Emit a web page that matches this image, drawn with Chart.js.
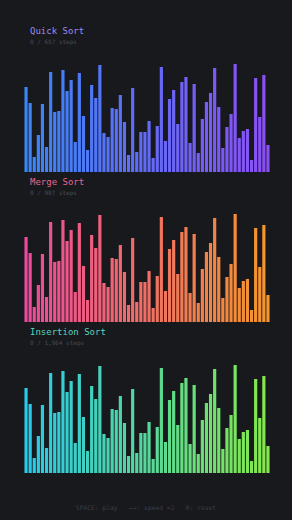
<!DOCTYPE html>
<html>
<head>
<meta charset="utf-8">
<script src="https://cdn.jsdelivr.net/npm/chart.js@4/dist/chart.umd.min.js"></script>
<style>
  html, body { margin: 0; padding: 0; }
  body {
    width: 292px; height: 520px; overflow: hidden; position: relative;
    background: #18191d;
    font-family: "DejaVu Sans Mono", "Liberation Mono", monospace;
  }
  .title { position: absolute; left: 30px; font-size: 9px; line-height: 10px; }
  .steps { position: absolute; left: 30px; font-size: 6px; line-height: 7px; color: #4b4c54; }
  .box { position: absolute; left: 24px; width: 246px; height: 110px; }
  .footer {
    position: absolute; left: 0; width: 292px; top: 504px; text-align: center;
    font-size: 6.3px; line-height: 8px; color: #3c3d45; white-space: pre;
  }
</style>
</head>
<body>
<div class="title" style="top:26px;color:#9a8cf0">Quick Sort</div>
<div class="steps" style="top:38px">0 / 657 steps</div>
<div class="box" style="top:62px"><canvas id="chart-quick"></canvas></div>

<div class="title" style="top:177px;color:#e8668f">Merge Sort</div>
<div class="steps" style="top:189px">0 / 997 steps</div>
<div class="box" style="top:212px"><canvas id="chart-merge"></canvas></div>

<div class="title" style="top:327px;color:#5cd4bf">Insertion Sort</div>
<div class="steps" style="top:339px">0 / 1,964 steps</div>
<div class="box" style="top:363px"><canvas id="chart-insertion"></canvas></div>

<div class="footer">SPACE: play   ←→: speed ×2   R: reset</div>

<script>
// same unsorted array in all three panels (step 0)
var values = [85, 69, 15, 37, 68, 25, 100, 60, 61, 102,
              81, 92, 30, 99, 56, 22, 87, 74, 107, 39,
              35, 64, 63, 77, 50, 17, 84, 20, 40, 40,
              51, 14, 46, 105, 31, 73, 82, 48, 90, 95,
              29, 88, 19, 53, 70, 79, 104, 65, 24, 45,
              58, 108, 34, 41, 43, 12, 94, 55, 97, 27];
var labels = values.map(function(v, i) { return i + 1; });

var panels = [
    { id: 'chart-quick', from: '#3a86f6', to: '#8b4ff5' },
    { id: 'chart-merge', from: '#ec4a9c', to: '#f4962c' },
    { id: 'chart-insertion', from: '#28c9ea', to: '#86e84a' }
];

function hexToRgb(hex) {
    var n = parseInt(hex.slice(1), 16);
    return [(n >> 16) & 255, (n >> 8) & 255, n & 255];
}

function gradientColors(from, to, count) {
    var a = hexToRgb(from), b = hexToRgb(to);
    var out = [];
    for (var i = 0; i < count; i++) {
        var t = count > 1 ? i / (count - 1) : 0;
        out.push('rgb(' + Math.round(a[0] + (b[0] - a[0]) * t) + ',' +
            Math.round(a[1] + (b[1] - a[1]) * t) + ',' +
            Math.round(a[2] + (b[2] - a[2]) * t) + ')');
    }
    return out;
}

panels.forEach(function(p) {
    var ctx = document.getElementById(p.id).getContext('2d');
    new Chart(ctx, {
        type: 'bar',
        data: {
            labels: labels,
            datasets: [{
                data: values,
                backgroundColor: gradientColors(p.from, p.to, values.length),
                borderWidth: 0,
                barPercentage: 0.78,
                categoryPercentage: 1
            }]
        },
        options: {
            responsive: true,
            maintainAspectRatio: false,
            animation: false,
            layout: { padding: 0 },
            plugins: { legend: { display: false }, tooltip: { enabled: false } },
            scales: {
                x: { display: false, offset: true },
                y: { display: false, min: 0, max: 110 }
            }
        }
    });
});
</script>
</body>
</html>
